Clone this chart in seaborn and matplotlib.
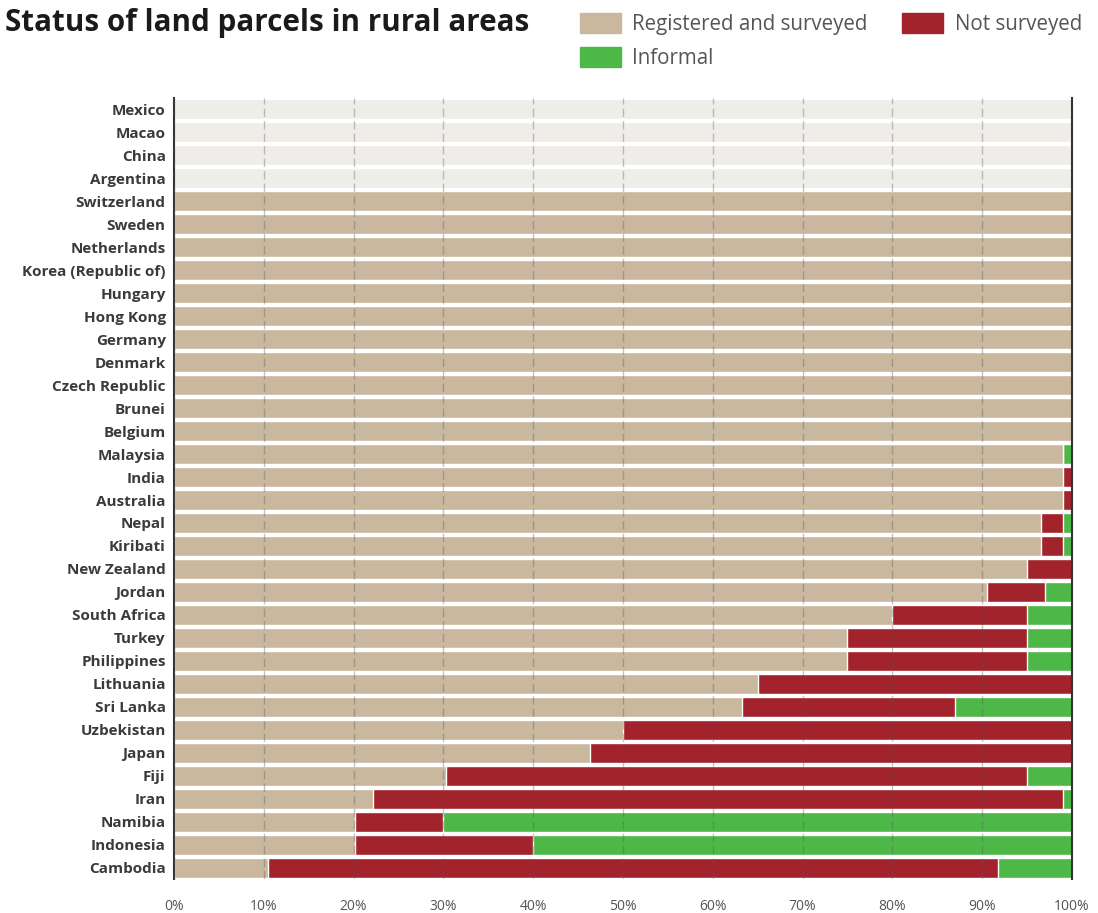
import numpy as np
import pandas as pd
import seaborn as sns
import matplotlib.pyplot as plt
from matplotlib.patches import Patch

# Data (percent of rural land parcels)
countries = ['Mexico', 'Macao', 'China', 'Argentina', 'Switzerland', 'Sweden',
             'Netherlands', 'Korea (Republic of)', 'Hungary', 'Hong Kong', 'Germany',
             'Denmark', 'Czech Republic', 'Brunei', 'Belgium', 'Malaysia', 'India',
             'Australia', 'Nepal', 'Kiribati', 'New Zealand', 'Jordan', 'South Africa',
             'Turkey', 'Philippines', 'Lithuania', 'Sri Lanka', 'Uzbekistan', 'Japan',
             'Fiji', 'Iran', 'Namibia', 'Indonesia', 'Cambodia']
registered = [np.nan, np.nan, np.nan, np.nan, 100, 100, 100, 100, 100, 100, 100,
              100, 100, 100, 100, 99, 99, 99, 96.5, 96.5, 95, 90.5, 80,
              75, 75, 65, 63.3, 50, 46.3, 30.3, 22.2, 20.2, 20.2, 10.5]
not_surveyed = [np.nan, np.nan, np.nan, np.nan, 0, 0, 0, 0, 0, 0, 0,
                0, 0, 0, 0, 0, 1, 1, 2.5, 2.5, 5, 6.5, 15,
                20, 20, 35, 23.7, 50, 53.7, 64.7, 76.8, 9.8, 19.8, 81.3]
informal = [np.nan, np.nan, np.nan, np.nan, 0, 0, 0, 0, 0, 0, 0,
            0, 0, 0, 0, 1, 0, 0, 1, 1, 0, 3, 5,
            5, 5, 0, 13, 0, 0, 5, 1, 70, 60, 8.2]

df = pd.DataFrame({'country': countries, 'registered': registered,
                   'not_surveyed': not_surveyed, 'informal': informal})
df['cum_not'] = df['registered'] + df['not_surveyed']
df['cum_inf'] = df['cum_not'] + df['informal']
df['track'] = 100.0  # full-width background track for every row

c_reg = '#C9B79E'
c_not = '#A2232B'
c_inf = '#4DB848'
c_track = '#EFEDE8'

sns.set_style('white')
plt.rcParams['font.family'] = ['Open Sans', 'DejaVu Sans']

fig = plt.figure(figsize=(10.98, 9.13), dpi=100)
ax = fig.add_axes([0.1585, 0.0367, 0.9763 - 0.1585, 0.8932 - 0.0367])

w = 0.88
sns.barplot(data=df, x='track', y='country', color=c_track, width=w,
            orient='h', saturation=1, ax=ax)
sns.barplot(data=df, x='cum_inf', y='country', color=c_inf, width=w,
            orient='h', saturation=1, ax=ax)
sns.barplot(data=df, x='cum_not', y='country', color=c_not, width=w,
            orient='h', saturation=1, ax=ax)
sns.barplot(data=df, x='registered', y='country', color=c_reg, width=w,
            orient='h', saturation=1, ax=ax)

ax.set_xlim(0, 100)
ax.set_xticks(np.arange(0, 101, 10))
ax.set_xticklabels([f'{v}%' for v in range(0, 101, 10)])
ax.set_xlabel('')
ax.set_ylabel('')
ax.set_axisbelow(False)
ax.grid(axis='x', color='#555555', alpha=0.35, linewidth=1, linestyle=(0, (6, 3)))
ax.grid(axis='y', visible=False)

for s in ['top', 'bottom']:
    ax.spines[s].set_visible(False)
for s in ['left', 'right']:
    ax.spines[s].set_color('#333333')
    ax.spines[s].set_linewidth(1.5)

ax.tick_params(axis='y', length=0, pad=6, labelsize=11, labelcolor='#3a3a3a')
ax.tick_params(axis='x', length=0, pad=14, labelsize=10, labelcolor='#555555')
for lab in ax.get_yticklabels():
    lab.set_fontweight('bold')

fig.text(0.005, 0.975, 'Status of land parcels in rural areas', fontsize=21.3,
         fontweight='bold', color='#1a1a1a', va='center', ha='left')

handles = [Patch(color=c_reg, label='Registered and surveyed'),
           Patch(color=c_inf, label='Informal'),
           Patch(color=c_not, label='Not surveyed')]
fig.legend(handles=handles, loc='upper left', bbox_to_anchor=(0.511, 1.006),
           ncol=2, frameon=False, fontsize=14.8, handlelength=2.0,
           handleheight=1.1, handletextpad=0.55, columnspacing=1.7,
           labelspacing=0.6, labelcolor='#555555')

fig.savefig('out.png', dpi=100, facecolor='white')
